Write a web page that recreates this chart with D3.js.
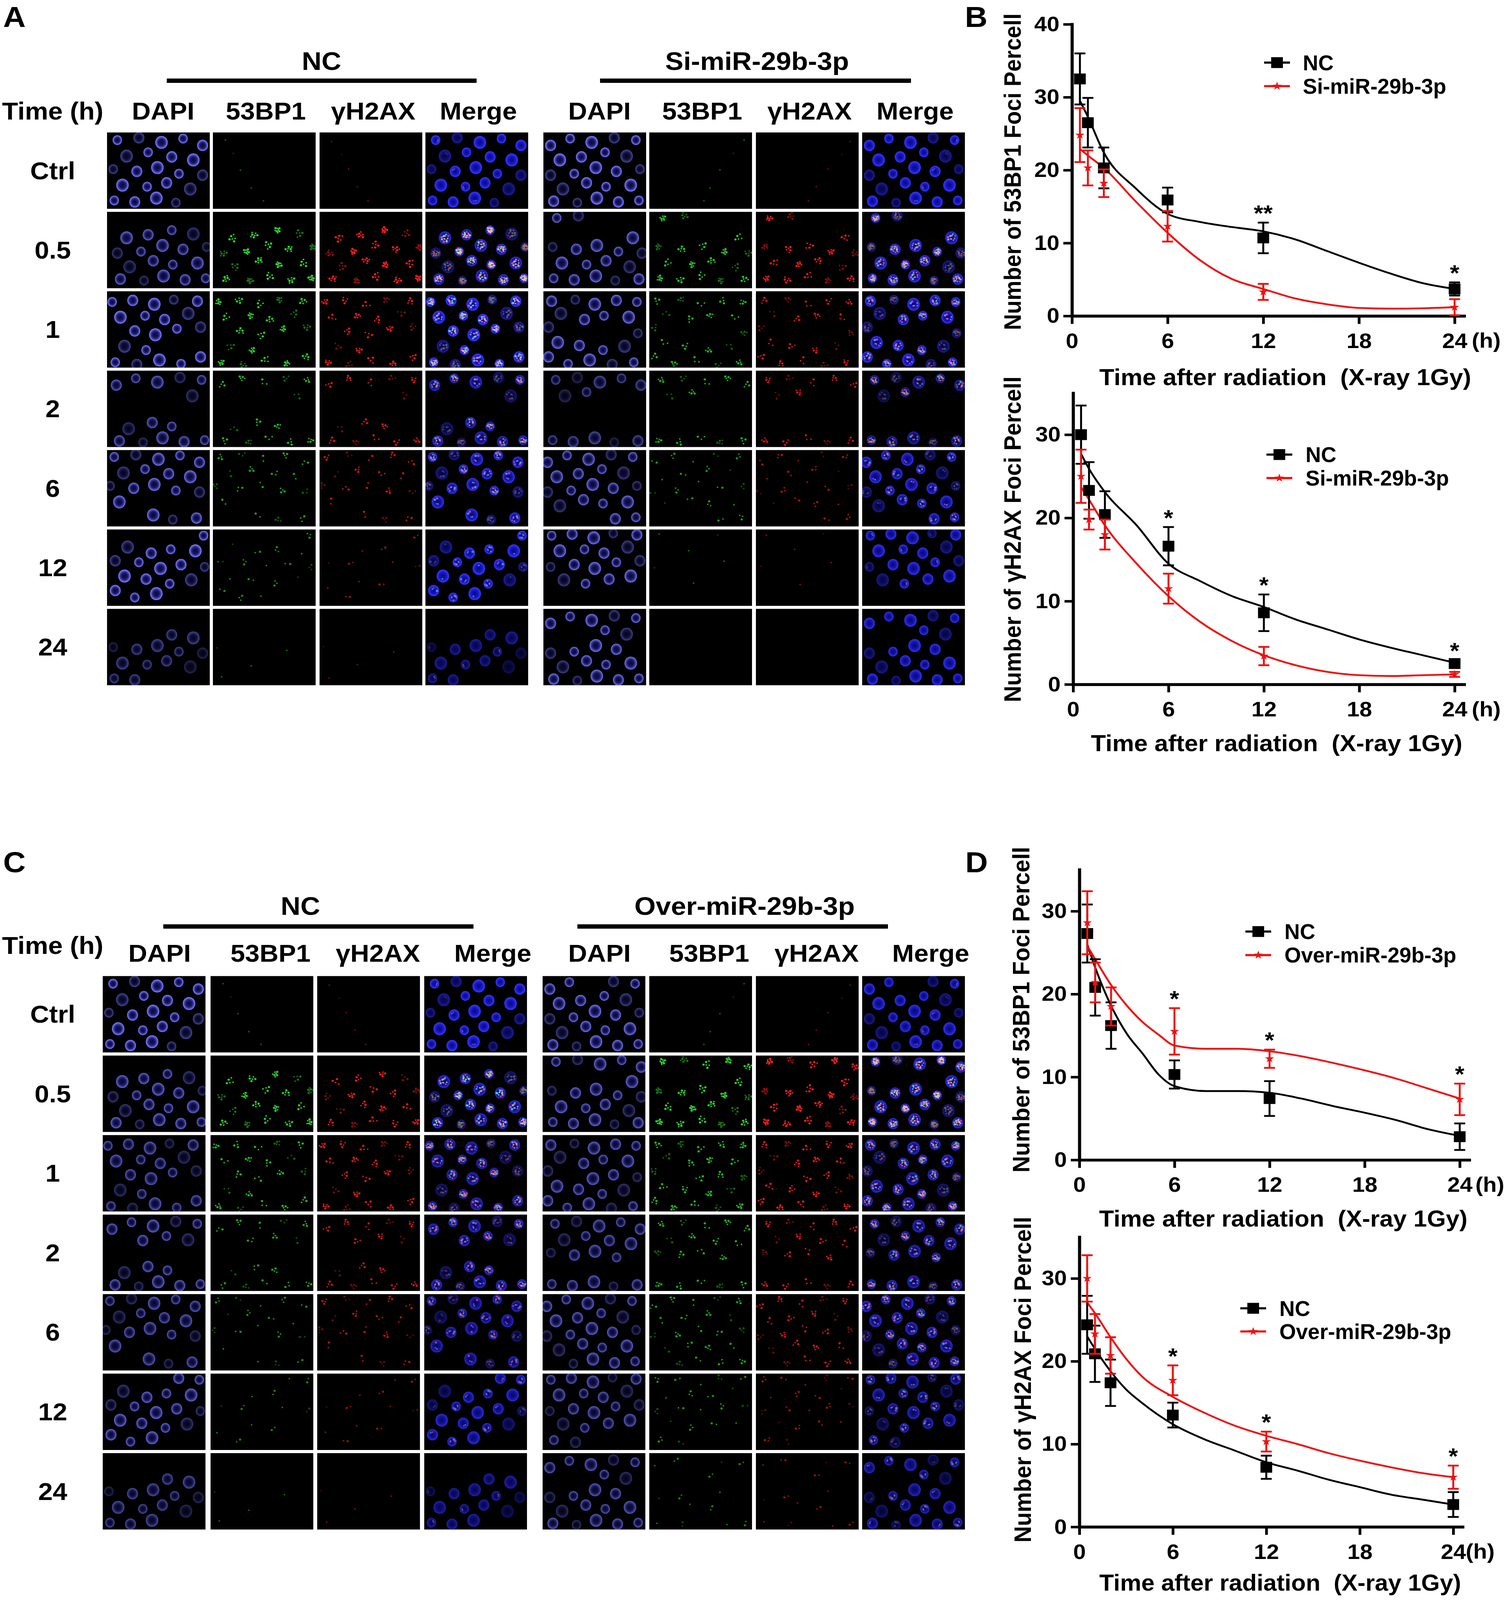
<!DOCTYPE html>
<html>
<head>
<meta charset="utf-8">
<script src="https://cdn.jsdelivr.net/npm/d3@7"></script>
<style>
  html, body { margin: 0; padding: 0; overflow: hidden; background: #fff; }
  svg { display: block; position: absolute; left: 0; top: 0; width: 100vw; height: 100vh; }
</style>
</head>
<body>
<div id="fig"></div>
<script>
// ---- data ----
const times = [0.5, 1, 2, 6, 12, 24];
const timeTicks = [0, 6, 12, 18, 24];
const rowLabels = ["Ctrl", "0.5", "1", "2", "6", "12", "24"];
const channels = ["DAPI", "53BP1", "γH2AX", "Merge"];

// B top: 53BP1 foci, NC vs Si-miR-29b-3p
const b53_nc = [32.5, 26.5, 20.3, 15.9, 10.7, 3.7];
const b53_nc_sem = [3.5, 3.4, 2.8, 1.7, 2.1, 0.9];
const b53_si = [24.8, 20.3, 18.2, 12.3, 3.3, 1.2];
const b53_si_sem = [3.7, 2.4, 1.9, 2.1, 1.1, 1.1];
// B bottom: γH2AX foci
const bH2_nc = [30.0, 23.3, 20.4, 16.6, 8.6, 2.5];
const bH2_nc_sem = [3.5, 3.4, 2.8, 2.3, 2.2, 0.4];
const bH2_si = [25.0, 19.8, 18.0, 11.5, 3.4, 1.2];
const bH2_si_sem = [3.2, 1.2, 1.8, 1.8, 1.1, 0.3];
// D top: 53BP1 foci, NC vs Over-miR-29b-3p
const d53_nc = [27.3, 20.8, 16.2, 10.3, 7.4, 2.8];
const d53_nc_sem = [3.5, 3.4, 2.8, 1.7, 2.1, 1.6];
const d53_ov = [28.6, 21.4, 18.5, 15.5, 12.2, 7.3];
const d53_ov_sem = [3.8, 2.4, 2.3, 2.8, 1.1, 1.9];
// D bottom: γH2AX foci
const dH2_nc = [24.4, 20.9, 17.4, 13.5, 7.2, 2.7];
const dH2_nc_sem = [3.5, 3.4, 2.8, 1.5, 1.4, 1.5];
const dH2_ov = [30.0, 23.3, 20.7, 17.7, 10.3, 6.0];
const dH2_ov_sem = [2.8, 2.4, 2.2, 1.8, 1.2, 1.4];

// fitted curves
const fitT_B = [0.5, 1, 2, 4, 6, 8, 10, 12, 14, 16, 18, 20, 22, 24];
const b53_nc_fit = [29.5, 27.3, 22.4, 17.5, 14.0, 12.9, 12.2, 11.6, 10.5, 8.9, 7.3, 5.8, 4.5, 3.7];
const b53_si_fit = [22.9, 22.0, 20.3, 15.7, 11.4, 7.7, 5.1, 3.7, 2.4, 1.6, 1.1, 1.0, 1.05, 1.2];
const bH2_nc_fit = [27.7, 25.9, 23.1, 19.1, 14.5, 12.4, 10.6, 9.3, 7.8, 6.6, 5.4, 4.4, 3.5, 2.6];
const bH2_si_fit = [23.7, 22.2, 19.1, 14.5, 10.6, 7.5, 5.2, 3.5, 2.3, 1.5, 1.1, 1.0, 1.1, 1.2];
const fitT_D1 = [0.5, 1, 2, 3, 4, 5, 6, 8, 10, 12, 14, 16, 18, 20, 22, 24];
const d53_nc_fit = [26.0, 23.2, 18.6, 15.2, 12.8, 10.3, 8.9, 8.3, 8.3, 8.1, 7.4, 6.5, 5.7, 4.8, 3.7, 2.9];
const d53_ov_fit = [25.8, 24.2, 21.1, 18.6, 16.6, 15.1, 13.8, 13.4, 13.4, 13.1, 12.5, 11.7, 10.8, 9.8, 8.6, 7.4];
const fitT_D2 = [0.5, 1, 2, 3, 4, 6, 8, 10, 12, 14, 16, 18, 20, 22, 24];
const dH2_nc_fit = [23.0, 21.5, 18.8, 16.6, 15.0, 12.4, 10.6, 9.2, 7.8, 6.8, 5.7, 4.8, 3.9, 3.3, 2.7];
const dH2_ov_fit = [27.1, 25.8, 22.9, 20.3, 18.2, 15.7, 13.8, 12.2, 11.0, 10.0, 8.9, 8.0, 7.2, 6.5, 6.0];

// cells visible per image row (rough count from the picture)
const cells_aNC = [22, 18, 20, 14, 18, 17, 13];
const cells_aSi = [23, 17, 20, 12, 20, 18, 20];
const cells_cNC = [22, 18, 20, 16, 18, 18, 14];
const cells_cOv = [22, 20, 22, 18, 22, 20, 20];
// DAPI brightness per row
const dapi_aNC = [1, 0.8, 1, 0.75, 0.9, 1, 0.55];
const dapi_aSi = [1, 0.85, 0.9, 0.6, 0.85, 0.9, 0.9];
const dapi_cNC = [1, 0.8, 0.7, 0.75, 0.7, 0.8, 0.6];
const dapi_cOv = [0.9, 0.8, 0.75, 0.7, 0.75, 0.7, 0.7];

// ---- layout ----
const W = 3850, H = 4421;
const FONT = '"Liberation Sans", Arial, Helvetica, sans-serif';
const RED = "#ee1111";

const svg = d3.select("#fig").append("svg")
  .attr("viewBox", `0 0 ${W} ${H}`)
  .attr("preserveAspectRatio", "none");
svg.append("rect").attr("width", W).attr("height", H).attr("fill", "#fff");
const defs = svg.append("defs");

function radial(id, stops) {
  const gr = defs.append("radialGradient").attr("id", id);
  stops.forEach(([o, c, a]) =>
    gr.append("stop").attr("offset", o).attr("stop-color", c).attr("stop-opacity", a));
}
radial("dapi", [["0%", "#0c0c3c", 0.8], ["50%", "#1c1c70", 0.9], ["82%", "#5656dc", 1], ["100%", "#8a8aff", 1]]);
radial("merge", [["0%", "#0c0c80", 0.9], ["55%", "#1616c0", 1], ["85%", "#2c2cff", 1], ["100%", "#3a3aff", 1]]);

// squeeze text horizontally a bit (figure font is slightly condensed)
function squeeze(sel, k) {
  sel.each(function () {
    const w = this.getComputedTextLength();
    d3.select(this).attr("textLength", w * k).attr("lengthAdjust", "spacingAndGlyphs");
  });
}

function label(x, y, str, size, anchor) {
  return svg.append("text")
    .attr("x", x).attr("y", y)
    .attr("font-family", FONT).attr("font-weight", "bold")
    .attr("font-size", size).attr("text-anchor", anchor || "middle")
    .attr("fill", "#000").text(str);
}

// ---- microscopy panels (A, C) ----
// normalised cell centres within one field of view
const cellBase = [
  [0.10, 0.10], [0.31, 0.07], [0.53, 0.13], [0.74, 0.08], [0.93, 0.17],
  [0.19, 0.31], [0.40, 0.26], [0.63, 0.32], [0.84, 0.36],
  [0.06, 0.48], [0.29, 0.51], [0.49, 0.46], [0.70, 0.54], [0.93, 0.56],
  [0.15, 0.69], [0.39, 0.71], [0.58, 0.66], [0.81, 0.74],
  [0.07, 0.89], [0.27, 0.91], [0.48, 0.86], [0.67, 0.92], [0.90, 0.90]
];
const fieldShift = [[0, 0], [0.03, -0.02], [-0.02, 0.03], [0.02, 0.02], [-0.03, -0.01], [0.01, -0.03], [0, 0.02]];
const PW = 263, PH = 211;

function fieldCells(row, grp, count) {
  const n = cellBase.length;
  const start = (row * 5 + grp * 3) % n;
  const out = [];
  for (let k = 0; k < Math.min(count, n); k++) {
    const idx = (start + k) % n;
    let [u, v] = cellBase[idx];
    if ((row + grp) % 2) u = 1 - u;
    if (row % 3 === 2) v = 1 - v;
    out.push({
      x: (u + fieldShift[row][0]) * PW,
      y: (v + fieldShift[row][1]) * PH,
      r: 12 + (idx % 3) * 2,
      i: idx,
      dim: idx % 4 === 1 ? 0.55 : 1
    });
  }
  return out;
}

function fociCount(level, row, cell) {
  if (row === 0) return cell.i % 5 === 0 ? 1 : 0;
  return Math.max(0, Math.min(8, Math.round(level / 3.8)) - (cell.i % 3));
}

function drawFoci(g, cell, n, color, turn, blend, level) {
  for (let k = 0; k < n; k++) {
    const a = k * 2.4 + cell.i + turn;
    const d = cell.r * 0.7 * Math.sqrt((k + 0.5) / n);
    g.append("circle")
      .attr("cx", cell.x + d * Math.cos(a))
      .attr("cy", cell.y + d * Math.sin(a))
      .attr("r", 2.2 + (k % 2) * 0.8)
      .attr("fill", color)
      .attr("opacity", (0.45 + Math.min(level, 30) / 55) * cell.dim)
      .style("mix-blend-mode", blend ? "screen" : null);
  }
}

let clipId = 0;
function drawPanel(x, y, channel, cells, lvl53, lvlH2, row, bright) {
  const id = "clip" + (clipId++);
  defs.append("clipPath").attr("id", id)
    .append("rect").attr("width", PW).attr("height", PH);
  const g = svg.append("g").attr("transform", `translate(${x},${y})`);
  g.append("rect").attr("width", PW).attr("height", PH).attr("fill", "#000");
  const c = g.append("g").attr("clip-path", `url(#${id})`);
  cells.forEach(cell => {
    if (channel === 0 || channel === 3) {
      c.append("ellipse")
        .attr("cx", cell.x).attr("cy", cell.y)
        .attr("rx", cell.r).attr("ry", cell.r * 1.12)
        .attr("fill", channel === 0 ? "url(#dapi)" : "url(#merge)")
        .attr("opacity", bright * cell.dim);
    }
    const n53 = fociCount(lvl53, row, cell);
    const nH2 = fociCount(lvlH2, row, cell);
    if (channel === 1) drawFoci(c, cell, n53, "#2ed82e", 0, false, lvl53);
    if (channel === 2) drawFoci(c, cell, nH2, "#ff1e1e", 0.7, false, lvlH2);
    if (channel === 3) {
      drawFoci(c, cell, n53, "#3cd03c", 0, true, lvl53);
      drawFoci(c, cell, nH2, "#ff3030", 0.7, true, lvlH2);
    }
  });
}

const panelSets = [
  {
    letter: "A", letterY: 75,
    groups: [
      { name: "NC", cells: cells_aNC, dapi: dapi_aNC, f53: b53_nc, fH2: bH2_nc },
      { name: "Si-miR-29b-3p", cells: cells_aSi, dapi: dapi_aSi, f53: b53_si, fH2: bH2_si }
    ],
    colX: [274, 545, 818, 1089, 1391, 1662, 1935, 2207],
    top: 366, pitch: 219.4,
    titleX: [823, 1938], titleY: 193,
    bars: [[427, 1220], [1536, 2332]], barY: 217,
    headY: 330, timeY: 330, headShift: [12, 4, 6, 4]
  },
  {
    letter: "C", letterY: 2410,
    groups: [
      { name: "NC", cells: cells_cNC, dapi: dapi_cNC, f53: d53_nc, fH2: dH2_nc },
      { name: "Over-miR-29b-3p", cells: cells_cOv, dapi: dapi_cOv, f53: d53_ov, fH2: dH2_ov }
    ],
    colX: [263, 539, 812, 1086, 1389, 1662, 1935, 2207],
    top: 2697, pitch: 219.7,
    titleX: [769, 1906], titleY: 2528,
    bars: [[418, 1212], [1478, 2273]], barY: 2554,
    headY: 2657, timeY: 2636, headShift: [14, 22, 24, 44]
  }
];

panelSets.forEach(ps => {
  label(8, ps.letterY, ps.letter, 80, "start");
  label(135, ps.timeY, "Time (h)", 67);
  ps.groups.forEach((grp, gi) => {
    label(ps.titleX[gi], ps.titleY, grp.name, 70);
    svg.append("rect")
      .attr("x", ps.bars[gi][0]).attr("y", ps.barY)
      .attr("width", ps.bars[gi][1] - ps.bars[gi][0]).attr("height", 12)
      .attr("fill", "#000");
    channels.forEach((ch, ci) => {
      label(ps.colX[gi * 4 + ci] + PW / 2 + ps.headShift[ci], ps.headY, ch, 67);
    });
    rowLabels.forEach((rl, ri) => {
      const cells = fieldCells(ri, gi, grp.cells[ri]);
      const l53 = ri === 0 ? 0 : grp.f53[ri - 1];
      const lH2 = ri === 0 ? 0 : grp.fH2[ri - 1];
      channels.forEach((ch, ci) => {
        drawPanel(ps.colX[gi * 4 + ci], ps.top + ri * ps.pitch, ci, cells, l53, lH2, ri, grp.dapi[ri]);
      });
    });
  });
  rowLabels.forEach((rl, ri) => {
    label(135, ps.top + ri * ps.pitch + 105 + 24, rl, 67);
  });
});

// ---- line charts (B, D) ----
const charts = [
  {
    left: 2744, right: 3748, bottom: 873, top: 67, yMax: 40, yTicks: [0, 10, 20, 30, 40],
    ylab: "Number of 53BP1 Foci Percell", ylabX: 2613, ylabBottom: 912, ylabLen: 875,
    xtitleX: 3290, xtitleY: 1064, xtitleW: 952, hOff: 44,
    legX: 3269, legY: [173, 238], legTextX: 3335,
    series: [
      { name: "NC", m: b53_nc, e: b53_nc_sem, fitT: fitT_B, fit: b53_nc_fit, color: "#000", sym: "sq" },
      { name: "Si-miR-29b-3p", m: b53_si, e: b53_si_sem, fitT: fitT_B, fit: b53_si_fit, color: RED, sym: "star" }
    ],
    stars: [[12, "**"], [24, "*"]]
  },
  {
    left: 2747, right: 3748, bottom: 1891, top: 1086, yMax: 35, yTicks: [0, 10, 20, 30],
    ylab: "Number of γH2AX Foci Percell", ylabX: 2613, ylabBottom: 1940, ylabLen: 900,
    xtitleX: 3268, xtitleY: 2076, xtitleW: 951, hOff: 44,
    legX: 3275, legY: [1256, 1321], legTextX: 3342,
    series: [
      { name: "NC", m: bH2_nc, e: bH2_nc_sem, fitT: fitT_B, fit: bH2_nc_fit, color: "#000", sym: "sq" },
      { name: "Si-miR-29b-3p", m: bH2_si, e: bH2_si_sem, fitT: fitT_B, fit: bH2_si_fit, color: RED, sym: "star" }
    ],
    stars: [[6, "*"], [12, "*"], [24, "*"]]
  },
  {
    left: 2763, right: 3761, bottom: 3205, top: 2403, yMax: 35, yTicks: [0, 10, 20, 30],
    ylab: "Number of 53BP1 Foci Percell", ylabX: 2635, ylabBottom: 3240, ylabLen: 900,
    xtitleX: 3285, xtitleY: 3389, xtitleW: 943, hOff: 40,
    legX: 3221, legY: [2574, 2639], legTextX: 3288,
    series: [
      { name: "NC", m: d53_nc, e: d53_nc_sem, fitT: fitT_D1, fit: d53_nc_fit, color: "#000", sym: "sq" },
      { name: "Over-miR-29b-3p", m: d53_ov, e: d53_ov_sem, fitT: fitT_D1, fit: d53_ov_fit, color: RED, sym: "star" }
    ],
    stars: [[6, "*"], [12, "*"], [24, "*"]]
  },
  {
    left: 2763, right: 3744, bottom: 4219, top: 3418, yMax: 35, yTicks: [0, 10, 20, 30],
    ylab: "Number of γH2AX Foci Percell", ylabX: 2639, ylabBottom: 4262, ylabLen: 900,
    xtitleX: 3277, xtitleY: 4395, xtitleW: 926, hOff: 32,
    legX: 3208, legY: [3615, 3679], legTextX: 3275,
    series: [
      { name: "NC", m: dH2_nc, e: dH2_nc_sem, fitT: fitT_D2, fit: dH2_nc_fit, color: "#000", sym: "sq" },
      { name: "Over-miR-29b-3p", m: dH2_ov, e: dH2_ov_sem, fitT: fitT_D2, fit: dH2_ov_fit, color: RED, sym: "star" }
    ],
    stars: [[6, "*"], [12, "*"], [24, "*"]]
  }
];

const symSquare = d3.symbol().type(d3.symbolSquare).size(900);
const symStar = d3.symbol().type(d3.symbolStar).size(170);

function drawChart(cfg) {
  const x = d3.scaleLinear().domain([0, 24.6]).range([cfg.left, cfg.right]);
  const y = d3.scaleLinear().domain([0, cfg.yMax]).range([cfg.bottom, cfg.top]);
  const g = svg.append("g");

  // axes
  const ya = g.append("g")
    .attr("transform", `translate(${cfg.left},0)`)
    .call(d3.axisLeft(y).tickValues(cfg.yTicks).tickSize(22).tickSizeOuter(0).tickPadding(10));
  const xa = g.append("g")
    .attr("transform", `translate(0,${cfg.bottom})`)
    .call(d3.axisBottom(x).tickValues(timeTicks).tickSize(22).tickSizeOuter(0).tickPadding(25));
  [ya, xa].forEach(a => {
    a.attr("font-size", 58).attr("font-family", FONT).attr("font-weight", "bold");
    a.select(".domain").attr("stroke", "#000").attr("stroke-width", 8).attr("stroke-linecap", "square");
    a.selectAll(".tick line").attr("stroke", "#000").attr("stroke-width", 7);
    a.selectAll(".tick text").attr("fill", "#000");
  });
  g.append("text")
    .attr("x", x(24) + cfg.hOff).attr("y", cfg.bottom + 88)
    .attr("font-family", FONT).attr("font-weight", "bold").attr("font-size", 58)
    .text("(h)");

  // fitted curves
  const line = d3.line().x(d => x(d[0])).y(d => y(d[1])).curve(d3.curveMonotoneX);
  cfg.series.forEach(s => {
    g.append("path")
      .datum(d3.zip(s.fitT, s.fit))
      .attr("d", line)
      .attr("fill", "none")
      .attr("stroke", s.color)
      .attr("stroke-width", 5);
  });

  // error bars and markers
  cfg.series.forEach(s => {
    const pts = d3.zip(times, s.m, s.e);
    const eb = g.append("g").attr("stroke", s.color).attr("stroke-width", 5);
    eb.selectAll("line.v").data(pts).join("line")
      .attr("x1", d => x(d[0])).attr("x2", d => x(d[0]))
      .attr("y1", d => y(d[1] - d[2])).attr("y2", d => y(d[1] + d[2]));
    [1, -1].forEach(sign => {
      eb.selectAll("line.c" + sign).data(pts).join("line")
        .attr("x1", d => x(d[0]) - 14).attr("x2", d => x(d[0]) + 14)
        .attr("y1", d => y(d[1] + sign * d[2])).attr("y2", d => y(d[1] + sign * d[2]));
    });
    g.append("g").selectAll("path").data(pts).join("path")
      .attr("transform", d => `translate(${x(d[0])},${y(d[1])})`)
      .attr("d", s.sym === "sq" ? symSquare : symStar)
      .attr("fill", s.color);
  });

  // significance marks
  cfg.stars.forEach(([t, mark]) => {
    const i = times.indexOf(t);
    const topVal = d3.max(cfg.series, s => s.m[i] + s.e[i]);
    g.append("text")
      .attr("x", x(t)).attr("y", y(topVal) - 4)
      .attr("text-anchor", "middle")
      .attr("font-family", FONT).attr("font-weight", "bold").attr("font-size", 62)
      .text(mark);
  });

  // legend
  cfg.series.forEach((s, i) => {
    const ly = cfg.legY[i];
    g.append("line")
      .attr("x1", cfg.legX - 33).attr("x2", cfg.legX + 33)
      .attr("y1", ly).attr("y2", ly)
      .attr("stroke", s.color).attr("stroke-width", 6);
    g.append("path")
      .attr("transform", `translate(${cfg.legX},${ly})`)
      .attr("d", s.sym === "sq" ? symSquare : symStar)
      .attr("fill", s.color);
    const t = g.append("text")
      .attr("x", cfg.legTextX).attr("y", ly + 21)
      .attr("font-family", FONT).attr("font-weight", "bold").attr("font-size", 60)
      .text(s.name);
    squeeze(t, 0.91);
  });

  // axis titles (font sized so the natural width is close to the figure's)
  g.append("text")
    .attr("x", cfg.xtitleX).attr("y", cfg.xtitleY)
    .attr("text-anchor", "middle")
    .attr("font-family", FONT).attr("font-weight", "bold").attr("font-size", 63)
    .attr("textLength", cfg.xtitleW).attr("lengthAdjust", "spacingAndGlyphs")
    .text("Time after radiation\u00a0\u00a0(X-ray 1Gy)");
  const cy = cfg.ylabBottom - cfg.ylabLen / 2;
  g.append("text")
    .attr("transform", `translate(${cfg.ylabX},${cy}) rotate(-90)`)
    .attr("text-anchor", "middle")
    .attr("font-family", FONT).attr("font-weight", "bold").attr("font-size", 61)
    .attr("textLength", cfg.ylabLen).attr("lengthAdjust", "spacingAndGlyphs")
    .text(cfg.ylab);
}

charts.forEach(drawChart);
label(2470, 75, "B", 80, "start");
label(2471, 2410, "D", 80, "start");
</script>
</body>
</html>
